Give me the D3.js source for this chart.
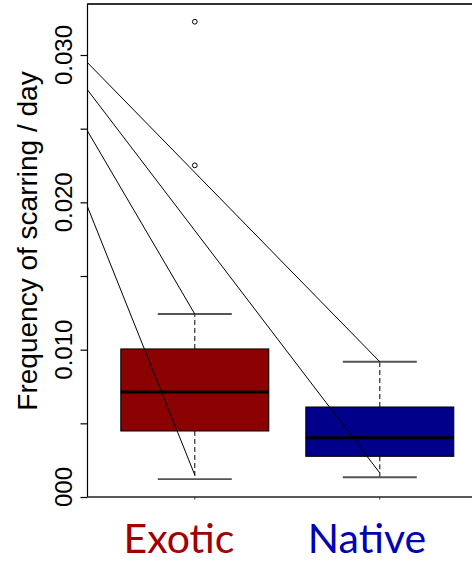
<!DOCTYPE html>
<html>
<head>
<meta charset="utf-8">
<script src="https://cdn.jsdelivr.net/npm/d3@7"></script>
<style>
  html, body { margin: 0; padding: 0; background: #fff; }
  svg { display: block; }
</style>
</head>
<body>
<svg id="chart" width="472" height="562"></svg>
<script>
// ---- data ----
const categories = ["Exotic", "Native"];
const boxLow     = [0.00448, 0.00276];   // lower hinge
const boxMedian  = [0.00713, 0.00402];
const boxHigh    = [0.01005, 0.00611];   // upper hinge
const whiskerLow = [0.00122, 0.00134];
const whiskerHigh= [0.01242, 0.00918];
const outliersExotic = [0.02251, 0.03226];
const outliersNative = [];
const yTickValues = [0, 0.005, 0.010, 0.015, 0.020, 0.025, 0.030];
const yLabelValues = [0, 0.010, 0.020, 0.030];
// leader lines: start on left axis, end at a group's whisker end
const leaderStart   = [0.02948, 0.02763, 0.02484, 0.01970];
const leaderEndCat  = ["Native", "Native", "Exotic", "Exotic"];
const leaderEnd     = [0.00918, 0.00163, 0.01242, 0.00149];

const boxFill   = ["#8b0000", "#00008b"];
const labelFill = ["#a20000", "#0000b4"];

// ---- layout ----
const svg = d3.select("#chart");
const W = 472, H = 562;
const mLeft = 87.5, mBottom = 497, mTop = 3.5;

const x = d3.scaleLinear().domain([0.42, 2.58]).range([mLeft, mLeft + 2.16 * 185]);
const y = d3.scaleLinear().domain([0, 0.0335]).range([mBottom, mBottom - 0.0335 * 14733]);
const xc = c => x(categories.indexOf(c) + 1);
const halfW = 0.4 * 185;   // half box width
const capHalf = 0.2 * 185;

const defs = svg.append("defs");
defs.append("clipPath").attr("id", "plotclip")
  .append("rect").attr("x", mLeft).attr("y", mTop).attr("width", W - mLeft).attr("height", mBottom - mTop);

const plot = svg.append("g").attr("clip-path", "url(#plotclip)");

// boxes
categories.forEach((c, i) => {
  const cx = xc(c);
  plot.append("line").attr("x1", cx).attr("x2", cx)
    .attr("y1", y(boxHigh[i])).attr("y2", y(whiskerHigh[i]))
    .attr("stroke", "#000").attr("stroke-width", 1).attr("stroke-dasharray", "5,3");
  plot.append("line").attr("x1", cx).attr("x2", cx)
    .attr("y1", y(boxLow[i])).attr("y2", y(whiskerLow[i]))
    .attr("stroke", "#000").attr("stroke-width", 1).attr("stroke-dasharray", "5,3");
  [whiskerHigh[i], whiskerLow[i]].forEach(v => {
    plot.append("line").attr("x1", cx - capHalf).attr("x2", cx + capHalf)
      .attr("y1", y(v)).attr("y2", y(v))
      .attr("stroke", "#555").attr("stroke-width", 1.8);
  });
  plot.append("rect").attr("x", cx - halfW).attr("width", 2 * halfW)
    .attr("y", y(boxHigh[i])).attr("height", y(boxLow[i]) - y(boxHigh[i]))
    .attr("fill", boxFill[i]).attr("stroke", "#000").attr("stroke-width", 1);
  plot.append("line").attr("x1", cx - halfW).attr("x2", cx + halfW)
    .attr("y1", y(boxMedian[i])).attr("y2", y(boxMedian[i]))
    .attr("stroke", "#000").attr("stroke-width", 3);
});

// outliers
const outs = [outliersExotic, outliersNative];
categories.forEach((c, i) => {
  plot.selectAll(null).data(outs[i]).enter().append("circle")
    .attr("cx", xc(c)).attr("cy", d => y(d)).attr("r", 2.4)
    .attr("fill", "none").attr("stroke", "#000").attr("stroke-width", 1);
});

// leader lines
leaderStart.forEach((v, i) => {
  plot.append("line")
    .attr("x1", x(0.42)).attr("y1", y(v))
    .attr("x2", xc(leaderEndCat[i])).attr("y2", y(leaderEnd[i]))
    .attr("stroke", "#000").attr("stroke-width", 1);
});

// frame: top & bottom
svg.append("line").attr("x1", mLeft).attr("x2", W).attr("y1", 4).attr("y2", 4)
  .attr("stroke", "#333").attr("stroke-width", 2);
svg.append("line").attr("x1", mLeft).attr("x2", W).attr("y1", mBottom).attr("y2", mBottom)
  .attr("stroke", "#222").attr("stroke-width", 1.5);
categories.forEach(c => {
  svg.append("line").attr("x1", xc(c)).attr("x2", xc(c)).attr("y1", mBottom).attr("y2", mBottom + 2.5)
    .attr("stroke", "#333").attr("stroke-width", 1);
});

// y axis
const yAxis = d3.axisLeft(y).tickValues(yTickValues).tickSize(7).tickFormat("");
const gy = svg.append("g").attr("transform", `translate(${mLeft},0)`).call(yAxis);
gy.select(".domain").attr("stroke", "#000").attr("stroke-width", 1.2)
  .attr("d", `M0,${y(0)}V${mTop}`);
gy.selectAll(".tick line").attr("stroke", "#000").attr("stroke-width", 1.2);

// rotated tick labels (clipped below like the reference)
defs.append("clipPath").attr("id", "labclip")
  .append("rect").attr("x", 0).attr("y", 0).attr("width", 87).attr("height", 508);
svg.append("g").attr("clip-path", "url(#labclip)")
  .selectAll("text").data(yLabelValues).enter().append("text")
  .attr("transform", d => `translate(72,${y(d)}) rotate(-90)`)
  .attr("text-anchor", "middle")
  .attr("font-family", "Liberation Sans, Arial, sans-serif")
  .attr("font-size", 24)
  .attr("fill", "#000")
  .text(d => d3.format(".3f")(d));

// y title
svg.append("text")
  .attr("transform", `translate(37,241) rotate(-90)`)
  .attr("text-anchor", "middle")
  .attr("font-family", "Liberation Sans, Arial, sans-serif")
  .attr("font-size", 28)
  .attr("fill", "#000")
  .text("Frequency of scarring / day");

// category labels
const labelX = [179, 367];
categories.forEach((c, i) => {
  svg.append("text")
    .attr("x", labelX[i]).attr("y", 553)
    .attr("text-anchor", "middle")
    .attr("font-family", "Lato, 'Open Sans', sans-serif")
    .attr("font-size", 41)
    .attr("fill", labelFill[i])
    .text(c);
});
</script>
</body>
</html>
